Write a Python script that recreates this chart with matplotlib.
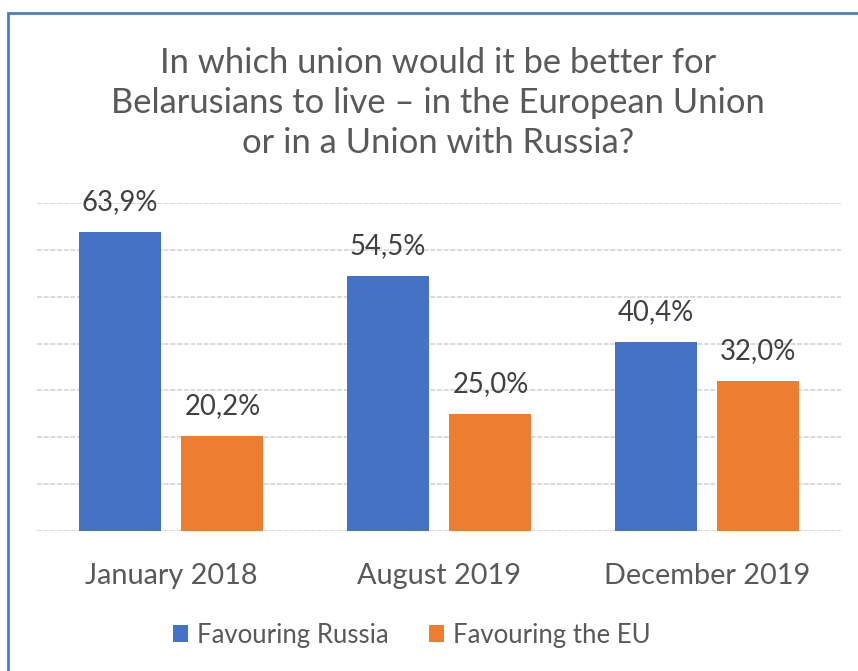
import numpy as np
import matplotlib.pyplot as plt
from matplotlib.patches import Rectangle

periods = ["January 2018", "August 2019", "December 2019"]
russia = [63.9, 54.5, 40.4]
eu = [20.2, 25.0, 32.0]
series_names = ["Favouring Russia", "Favouring the EU"]
title = "In which union would it be better for\nBelarusians to live \u2013 in the European Union\nor in a Union with Russia?"

plt.rcParams['font.family'] = ['Lato', 'DejaVu Sans']

fig = plt.figure(figsize=(8.58, 6.71), dpi=100)
ax = fig.add_axes([37/858, 140/671, 804/858, 328/671])

x = np.arange(len(periods))
w = 0.306
off = 0.192
b1 = ax.bar(x - off, russia, w, color='#4472C4', label=series_names[0], zorder=3)
b2 = ax.bar(x + off, eu, w, color='#ED7D31', label=series_names[1], zorder=3)

for bars, vals in [(b1, russia), (b2, eu)]:
    for rect, v in zip(bars, vals):
        ax.text(rect.get_x() + rect.get_width()/2, v + 3.6, f"{v:.1f}%".replace(".", ","),
                ha='center', va='bottom', fontsize=19.8, color='#404040', zorder=4)

##=========== axes look ===========
ax.set_xlim(-0.5, 2.5)
ax.set_ylim(0, 70)
ax.set_yticks(np.arange(0, 71, 10))
ax.yaxis.grid(True, color='#d4d4d4', linewidth=1.2, linestyle=(0, (3, 1)), zorder=0)
ax.set_yticklabels([])
ax.tick_params(axis='both', length=0)
for s in ax.spines.values():
    s.set_visible(False)
ax.set_xticks(x)
ax.set_xticklabels(periods, fontsize=20.8, color='#595959')
ax.tick_params(axis='x', pad=23)

fig.text(438/858, 1 - 103/671, title, ha='center', va='center', fontsize=24.8,
         color='#595959', linespacing=1.3)

leg = fig.legend(loc='center', bbox_to_anchor=(412/858, 1 - 635/671), ncol=2,
                 frameon=False, fontsize=18.5, handlelength=0.6, handleheight=0.6,
                 handletextpad=0.35, columnspacing=1.55)
for t in leg.get_texts():
    t.set_color('#595959')

fig.patches.append(Rectangle((7.5/858, -0.5), 2, 1.5 - 12.5/671, transform=fig.transFigure,
                             fill=False, edgecolor='#4A7EC8', linewidth=2))

fig.savefig("out.png", dpi=100)
